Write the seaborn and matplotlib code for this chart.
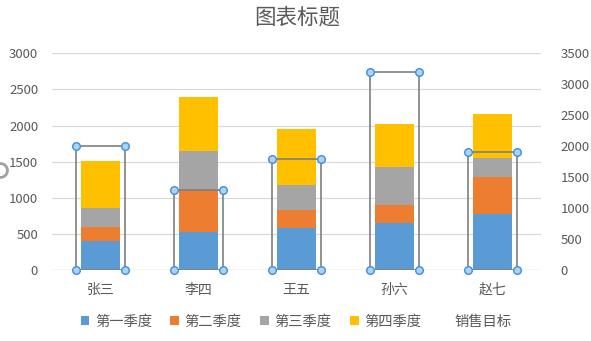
import matplotlib
matplotlib.use("Agg")
import matplotlib.pyplot as plt
from matplotlib.patches import Patch
from matplotlib.lines import Line2D
import numpy as np
import pandas as pd
import seaborn as sns

# ---- data ----
names = ["张三", "李四", "王五", "孙六", "赵七"]
q1 = [400, 530, 580, 650, 780]
q2 = [200, 580, 250, 250, 510]
q3 = [260, 540, 340, 520, 260]
q4 = [650, 750, 780, 600, 610]
target = [2000, 1300, 1800, 3200, 1900]
series_names = ["第一季度", "第二季度", "第三季度", "第四季度"]
target_name = "销售目标"
left_ticks = [0, 500, 1000, 1500, 2000, 2500, 3000]
right_ticks = [0, 500, 1000, 1500, 2000, 2500, 3000, 3500]

colors = ["#5B9BD5", "#ED7D31", "#A5A5A5", "#FFC000"]
text_color = "#595959"
grid_color = "#D9D9D9"

sns.set_theme(style="white")
plt.rcParams["font.family"] = ["Noto Sans CJK SC", "DejaVu Sans"]

df = pd.DataFrame({"name": names, "q1": q1, "q2": q2, "q3": q3, "q4": q4, "target": target})
cum = df[["q1", "q2", "q3", "q4"]].cumsum(axis=1)

fig = plt.figure(figsize=(5.91, 3.41), dpi=100)
ax = fig.add_axes([52 / 591, 1 - 270 / 341, (541 - 52) / 591, (270 - 53.3) / 341])

# stacked bars: draw cumulative totals from the top layer down
for col, color in zip(["q4", "q3", "q2", "q1"], colors[::-1]):
    sns.barplot(x=df["name"], y=cum[col], color=color, width=0.4,
                saturation=1, ax=ax, zorder=2, linewidth=0)

ax.set_ylim(0, 3000)
ax.set_yticks(left_ticks)
ax.set_xlim(-0.5, len(names) - 0.5)
ax.grid(axis="y", color=grid_color, linewidth=0.9, zorder=0)
ax.set_axisbelow(True)
for s in ax.spines.values():
    s.set_visible(False)
ax.set_xlabel("")
ax.set_ylabel("")
ax.tick_params(axis="y", length=0, pad=10, labelsize=9.5, labelcolor=text_color)
ax.tick_params(axis="x", length=0, pad=9, labelsize=10, labelcolor=text_color)
ax.axhline(0, color=grid_color, linewidth=1.0, zorder=1)

# secondary axis: target outline boxes
ax2 = ax.twinx()
sns.barplot(x=df["name"], y=df["target"], width=0.5, fill=False, ax=ax2,
            edgecolor="#7F7F7F", linewidth=1.2, zorder=3)
ax2.set_ylim(0, 3500)
ax2.set_yticks(right_ticks)
ax2.set_xlim(-0.5, len(names) - 0.5)
for s in ax2.spines.values():
    s.set_visible(False)
ax2.set_ylabel("")
ax2.set_xlabel("")
ax2.tick_params(axis="y", length=0, pad=14, labelsize=9.5, labelcolor=text_color)

# selection handles at the corners of each target box
hx, hy = [], []
for p in ax2.patches:
    x0 = p.get_x()
    w = p.get_width()
    h = p.get_height()
    for cx in (x0, x0 + w):
        for cy in (0, h):
            hx.append(cx)
            hy.append(cy)
ax2.scatter(hx, hy, s=30, facecolor="#AED2F3", edgecolor="#3C8FDC",
            linewidth=1.0, zorder=5, clip_on=False)

fig.text(297 / 591, 1 - 18 / 341, "图表标题", ha="center", va="center",
         fontsize=15.5, color=text_color)

handles = [Patch(facecolor=c, edgecolor="none") for c in colors]
handles.append(Patch(facecolor="none", edgecolor="none"))
leg = fig.legend(handles, series_names + [target_name], loc="center",
                 bbox_to_anchor=(296 / 591, 1 - 322 / 341), ncol=5, frameon=False,
                 fontsize=10.3, handlelength=0.6, handleheight=0.6, handletextpad=0.4,
                 columnspacing=1.3, labelcolor=text_color)

# partial handle ring at the left edge of the chart area
fig.add_artist(Line2D([0.0], [1 - 170 / 341], marker="o", markersize=10,
                      markerfacecolor="none", markeredgecolor="#A0A0A0",
                      markeredgewidth=2, transform=fig.transFigure))

fig.savefig("out.png", dpi=100, facecolor="white")
